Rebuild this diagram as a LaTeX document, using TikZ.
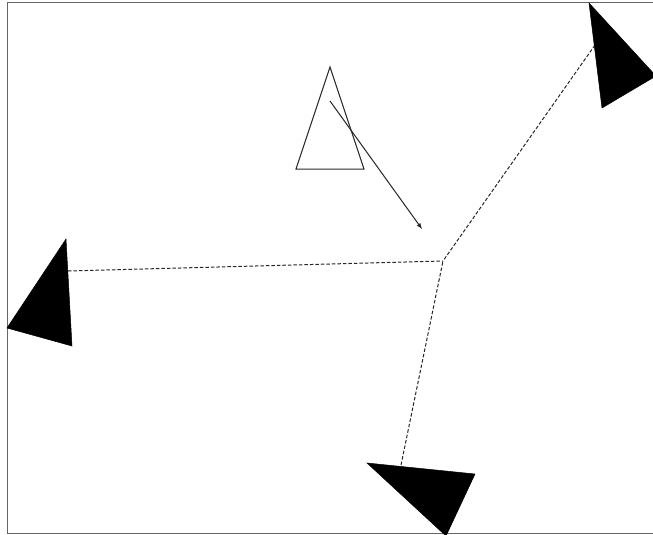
\documentclass[tikz,border=0pt]{standalone}
\begin{document}
\begin{tikzpicture}[x=1pt,y=-1pt,
  frame/.style={draw=black!60,line width=1.5pt},
  solidtri/.style={fill=black,draw=black,line width=0.5pt,line join=miter},
  outlinetri/.style={draw=black!85,line width=1pt},
  link/.style={draw=black!85,dashed,dash pattern=on 3.5pt off 2pt,line width=1pt},
  pointer/.style={draw=black!85,line width=1pt,-latex}]
\useasboundingbox (0,0) rectangle (653,535);
\clip (0,0) rectangle (653,535);
\draw[frame] (7.5,2.5) rectangle (670,533.5);
% center
\coordinate (c) at (443,261);
% dashed links endpoints
\coordinate (lt) at (68,271);
\coordinate (rt) at (595,45);
\coordinate (bt) at (401,465);
\draw[link] (lt) -- (c);
\draw[link] (rt) -- (c);
\draw[link] (bt) -- (c);
% solid triangles
\filldraw[solidtri] (589,3) -- (656,76) -- (602,108) -- cycle;
\filldraw[solidtri] (66,239) -- (7,328) -- (72,346) -- cycle;
\filldraw[solidtri] (367,463) -- (475,474) -- (446,536) -- cycle;
% outline triangle
\draw[outlinetri] (330,67) -- (296,169) -- (364,169) -- cycle;
\coordinate (as) at (330,101);
\coordinate (ae) at (422,229);
\draw[pointer] (as) -- (ae);
\end{tikzpicture}
\end{document}
